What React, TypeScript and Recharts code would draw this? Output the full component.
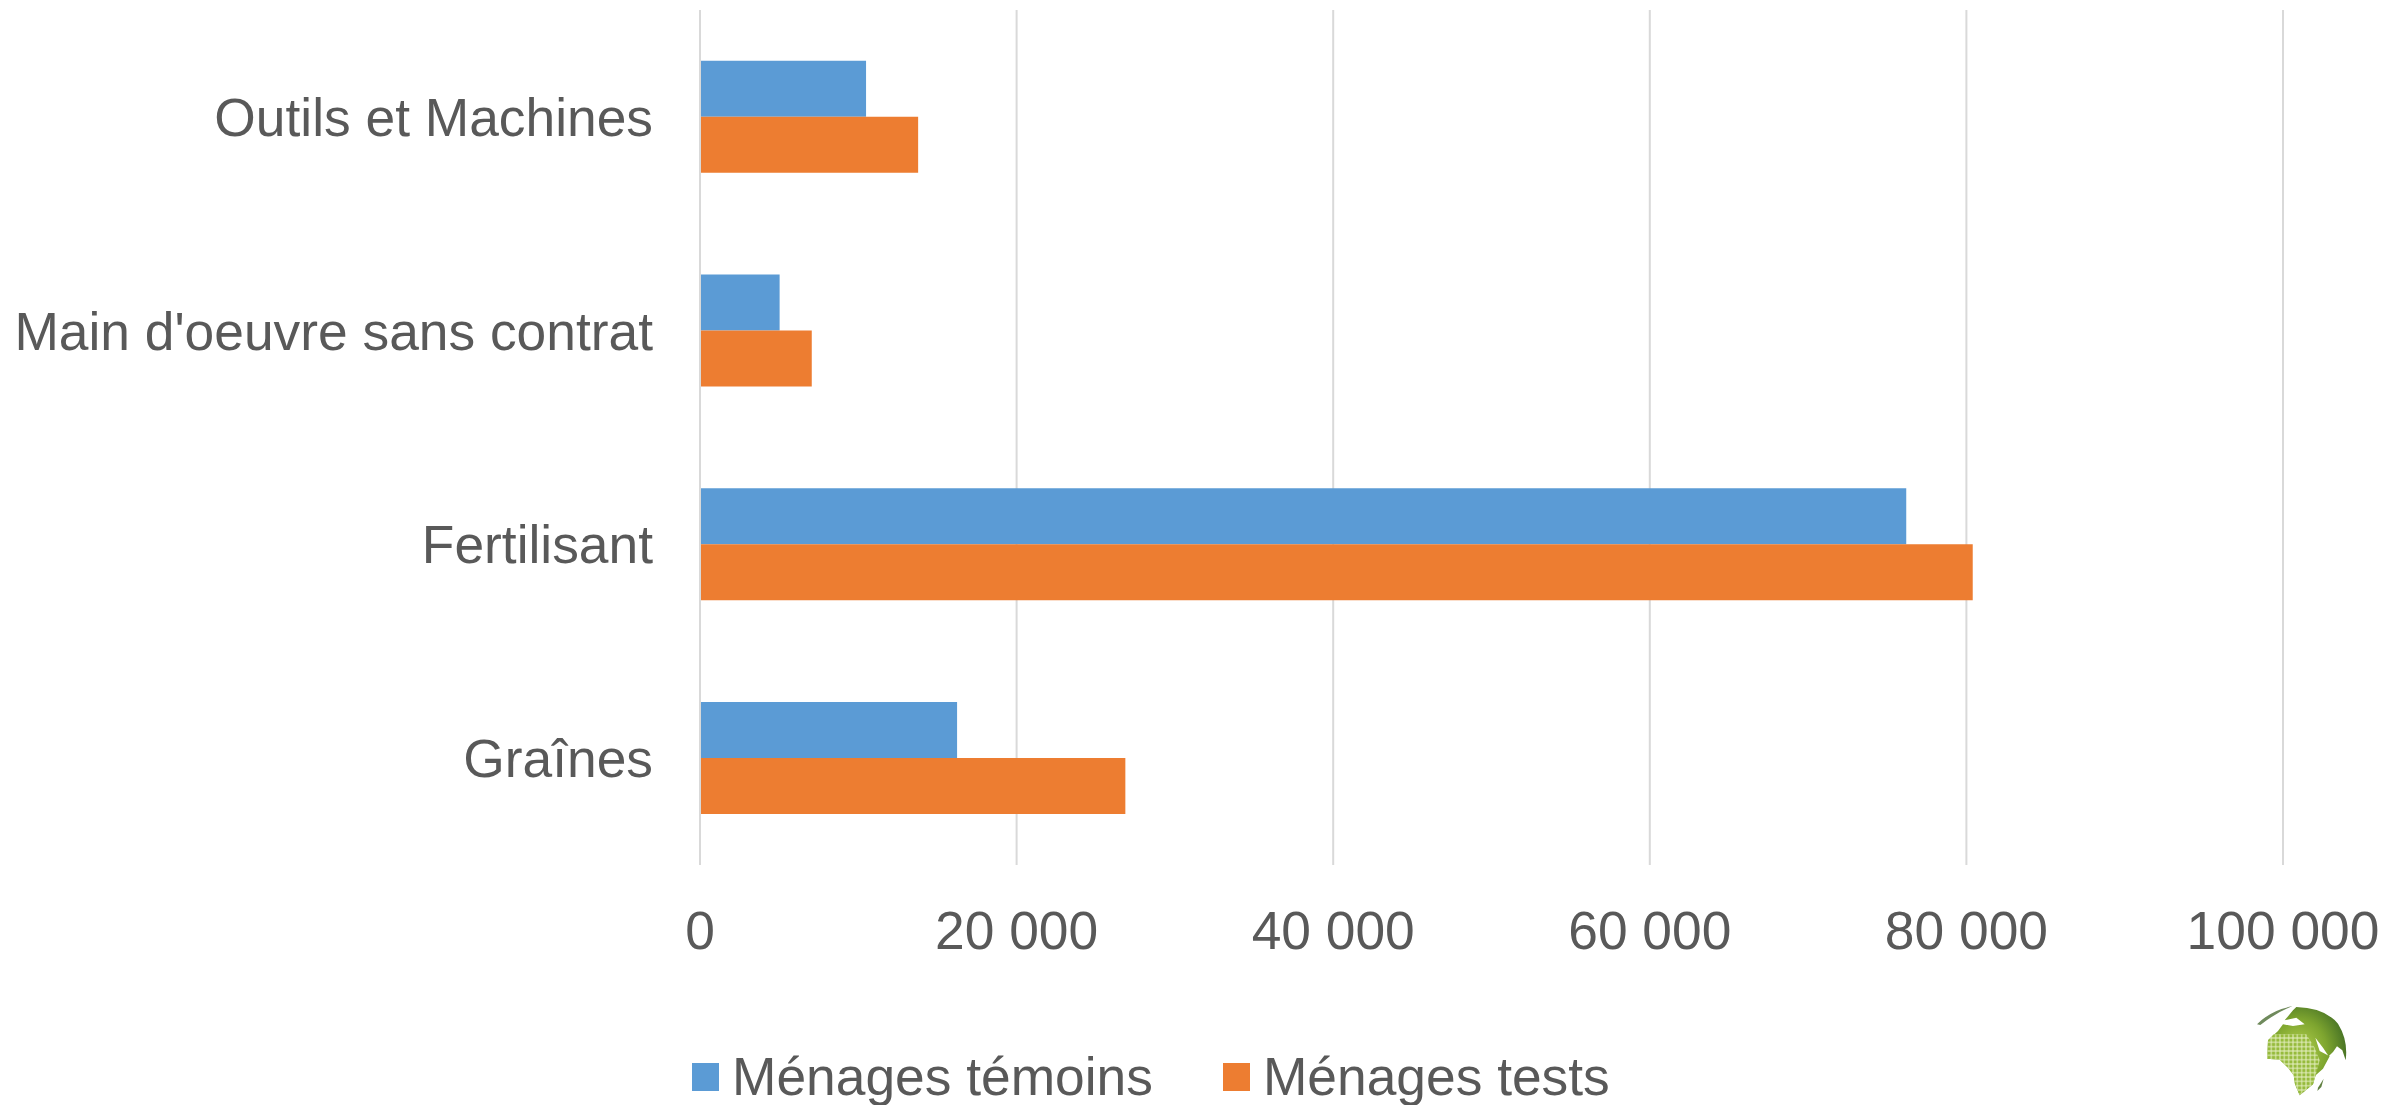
import React from "react";
import { BarChart, Bar, XAxis, YAxis, CartesianGrid, Legend } from "recharts";

const categories = ["Outils et Machines", "Main d'oeuvre sans contrat", "Fertilisant", "Graînes"];
const temoins = [10490, 5030, 76200, 16240];
const tests = [13780, 7060, 80400, 26870];
const xTicks = [0, 20000, 40000, 60000, 80000, 100000];
const tickLabels = ["0", "20 000", "40 000", "60 000", "80 000", "100 000"];
const seriesNames = ["Ménages témoins", "Ménages tests"];
const seriesColors = ["#5B9BD5", "#ED7D31"];

const rows = categories.map((name, i) => ({ name, temoins: temoins[i], tests: tests[i] }));
const font = "'Liberation Sans', Arial, sans-serif";
const textColor = "#595959";

function Globe() {
  return (
    <svg style={{ position: "absolute", left: 2257, top: 1006, width: 90, height: 90 }} viewBox="322 137 270 270">
      <defs>
        <radialGradient id="g" cx="40%" cy="50%" r="65%">
          <stop offset="0%" stopColor="#b5d24f" />
          <stop offset="55%" stopColor="#7ea52f" />
          <stop offset="100%" stopColor="#3f6b24" />
        </radialGradient>
        <pattern id="cells" x="352" y="220" width="13" height="13" patternUnits="userSpaceOnUse">
          <rect width="13" height="13" fill="#e4eec0" />
          <rect x="1.5" y="1.5" width="10" height="10" fill="#96bb3c" />
        </pattern>
      </defs>
      <path d="M322 192 Q365 148 428 138 Q380 156 332 194 Z" fill="#6f8a5c" />
      <path
        d="M440 140 Q525 142 565 190 Q596 240 588 300 L578 270 L562 258 L550 275 L537 288 L520 262 L497 232 L510 272 L540 288 L520 325 L498 345 L490 372 L450 405 L436 372 L432 345 L415 322 L390 298 L352 295 L355 240 L385 212 L400 192 L430 197 L465 192 L440 172 L405 180 L430 150 Z"
        fill="url(#g)"
      />
      <path d="M352 295 L355 240 L372 222 L470 222 L495 262 L510 300 L498 345 L490 372 L450 405 L436 372 L432 345 L415 322 L390 298 Z" fill="url(#cells)" />
      <path d="M505 382 L522 355 L515 380 L503 392 Z" fill="#5f7f3f" />
    </svg>
  );
}

function LegendContent({ payload }: any) {
  const items = payload || [];
  return (
    <div style={{ display: "flex", fontFamily: font, fontSize: 53.33, color: textColor, lineHeight: "60px", whiteSpace: "nowrap" }}>
      {items.map((p: any, i: number) => (
        <div key={p.value} style={{ display: "flex", alignItems: "center", marginRight: i === 0 ? 70 : 0 }}>
          <span style={{ display: "inline-block", width: 27, height: 28, background: p.color, marginRight: 13 }} />
          <span>{p.value}</span>
        </div>
      ))}
    </div>
  );
}

export default function App() {
  return (
    <div style={{ position: "absolute", left: 0, top: 0, width: 2397, height: 1105, background: "#fff", overflow: "hidden" }}>
      <BarChart
        width={2397}
        height={1105}
        data={rows}
        layout="vertical"
        barGap={0}
        barCategoryGap="23.8%"
        margin={{ top: 10, right: 114, bottom: 150, left: 0 }}
      >
        <CartesianGrid horizontal={false} stroke="#D9D9D9" strokeWidth={2} />
        <XAxis
          type="number"
          domain={[0, 100000]}
          ticks={xTicks}
          tickFormatter={(v: number) => tickLabels[xTicks.indexOf(v)]}
          axisLine={false}
          tickLine={false}
          tickMargin={40}
          tick={{ fill: textColor, fontSize: 53.33, fontFamily: font }}
          interval={0}
        />
        <YAxis
          type="category"
          dataKey="name"
          width={700}
          axisLine={{ stroke: "#D9D9D9", strokeWidth: 2 }}
          tickLine={false}
          tickMargin={41}
          tick={{ fill: textColor, fontSize: 53.33, fontFamily: font }}
          interval={0}
        />
        <Legend
          itemSorter={null}
          content={<LegendContent />}
          wrapperStyle={{ position: "absolute", left: 692, top: 1047, width: "auto", bottom: "auto" }}
        />
        <Bar dataKey="temoins" name={seriesNames[0]} fill={seriesColors[0]} isAnimationActive={false} />
        <Bar dataKey="tests" name={seriesNames[1]} fill={seriesColors[1]} isAnimationActive={false} />
      </BarChart>
      <Globe />
    </div>
  );
}
